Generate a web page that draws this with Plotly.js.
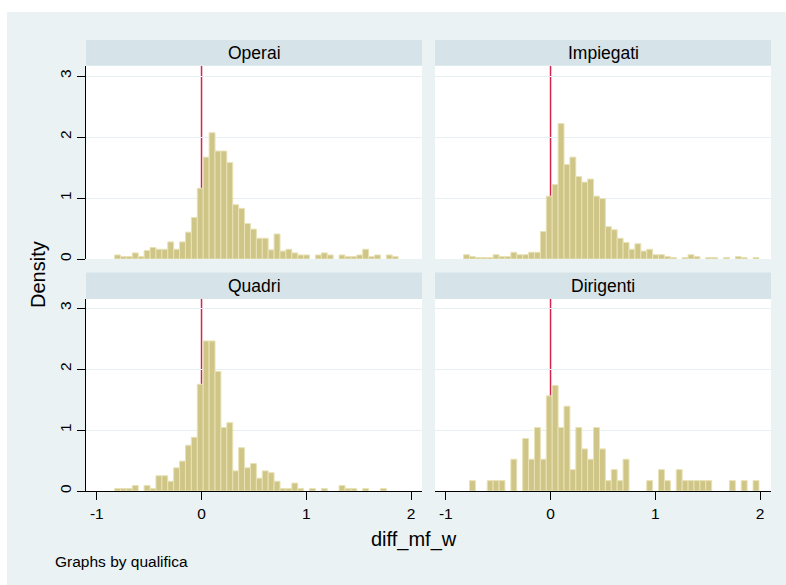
<!DOCTYPE html>
<html>
<head>
<meta charset="utf-8">
<script src="https://cdn.plot.ly/plotly-3.0.1.min.js"></script>
<style>html,body{margin:0;padding:0;background:#fff;}#chart{width:786px;height:585px;}</style>
</head>
<body>
<div id="chart"></div>
<script>
// Histogram bins (shared by all panels)
var binStart = -0.83;
var binWidth = 0.0564;
var nBins = 50;

var panelNames = ["Operai", "Impiegati", "Quadri", "Dirigenti"];

// Density per bin
var operai = [0.066,0.04,0.04,0.10,0.04,0.14,0.19,0.16,0.16,0.28,
              0.16,0.28,0.44,0.68,1.16,1.67,2.07,1.77,1.77,1.58,
              0.89,0.83,0.58,0.49,0.34,0.34,0.15,0.41,0.13,0.16,
              0.10,0.066,0.066,0,0.066,0.10,0.066,0,0.066,0.04,
              0.04,0.066,0.16,0.04,0.066,0,0.066,0.04,0,0];
var impiegati = [0.07,0.04,0.025,0.025,0.025,0.07,0.04,0.04,0.11,0.07,
                 0.07,0.11,0.11,0.45,1.03,1.22,2.22,1.55,1.67,1.35,
                 1.26,1.31,1.03,0.99,0.53,0.48,0.34,0.27,0.16,0.25,
                 0.13,0.16,0.07,0.07,0.04,0.025,0,0.025,0.07,0.04,
                 0,0.025,0.025,0,0.025,0,0.04,0.025,0,0.025];
var quadri = [0.04,0.04,0.04,0.09,0,0.09,0.04,0.25,0.25,0.16,
              0.38,0.49,0.75,0.88,1.75,2.46,2.46,1.96,1.04,1.12,
              0.33,0.71,0.38,0.45,0.21,0.33,0.30,0.16,0.04,0.04,
              0.13,0.04,0,0.04,0,0.04,0,0,0.09,0.04,
              0.04,0,0.04,0,0,0.04,0,0,0,0];
var dirigenti = [0,0.17,0,0,0.17,0.17,0.17,0,0.52,0,
                 0.86,0.52,1.04,0.52,1.56,1.73,1.04,1.39,0.35,1.04,
                 0.69,0.52,1.04,0.69,0.17,0.35,0.17,0.52,0,0,
                 0,0.17,0,0.35,0.17,0,0.35,0.17,0.17,0.17,
                 0.17,0.17,0,0,0,0.17,0,0.17,0,0.17];

var xTickVals = [-1, 0, 1, 2];
var xTickText = ["-1", "0", "1", "2"];
var yTickVals = [0, 1, 2, 3];
var yTickText = ["0", "1", "2", "3"];
var refLineX = 0;

var W = 786, H = 585;
var FONT = "Liberation Sans, Arial, sans-serif";
var BG = "#EAF2F3", STRIP = "#D6E3E8", GRID = "#E6EFF1";
var FILL = "#CEC587", EDGE = "#E8E2B6", RED = "#D6254D";

var centers = [];
for (var k = 0; k < nBins; k++) centers.push(binStart + binWidth * (k + 0.5));

function px(x) { return x / W; }
function py(y) { return 1 - y / H; }

// panel pixel boxes [left, right, top, bottom]
var boxes = [
  [86, 422, 66, 259],
  [435, 771, 66, 259],
  [86, 422, 299, 491],
  [435, 771, 299, 491]
];
var strips = [[40, 65.5], [40, 65.5], [272.5, 299], [272.5, 299]];
var series = [operai, impiegati, quadri, dirigenti];

var data = [], layout = {
  width: W, height: H,
  margin: {l: 0, r: 0, t: 0, b: 0},
  paper_bgcolor: BG,
  plot_bgcolor: "#FFFFFF",
  showlegend: false,
  bargap: 0,
  font: {family: FONT, color: "#000"},
  shapes: [
    {type: "rect", xref: "paper", yref: "paper", x0: 0, x1: 1, y0: py(12), y1: 1, fillcolor: "#FFFFFF", line: {width: 0}, layer: "below"},
    {type: "rect", xref: "paper", yref: "paper", x0: 0, x1: px(7), y0: 0, y1: 1, fillcolor: "#FFFFFF", line: {width: 0}, layer: "below"}
  ],
  annotations: []
};

for (var i = 0; i < 4; i++) {
  var b = boxes[i];
  var sfx = (i === 0 ? "" : String(i + 1));
  var xa = "xaxis" + sfx, ya = "yaxis" + sfx;
  var xr = "x" + sfx, yr = "y" + sfx;
  var left = (i % 2 === 0), bottom = (i >= 2);
  var yv = series[i].map(function (v) { return v > 0 ? v : null; });
  data.push({
    type: "bar", x: centers, y: yv, width: binWidth,
    xaxis: xr, yaxis: yr,
    marker: {color: FILL, line: {color: EDGE, width: 1}},
    hoverinfo: "x+y"
  });
  var topDens = (b[3] - b[2]) / 61;
  layout[xa] = {
    domain: [px(b[0]), px(b[1])], anchor: yr,
    range: [-1.103, 2.105], fixedrange: true,
    showgrid: false, zeroline: false,
    showline: bottom, linecolor: "#000", linewidth: 1,
    ticks: bottom ? "outside" : "", ticklen: 8, tickcolor: "#000", tickwidth: 1,
    showticklabels: bottom, tickvals: xTickVals, ticktext: xTickText,
    tickfont: {size: 15.5, family: FONT}
  };
  layout[ya] = {
    domain: [py(b[3]), py(b[2])], anchor: xr,
    range: [0, topDens], fixedrange: true,
    showgrid: true, gridcolor: GRID, gridwidth: 1, zeroline: false,
    showline: left, linecolor: "#000", linewidth: 1,
    ticks: left ? "outside" : "", ticklen: 8, tickcolor: "#000", tickwidth: 1,
    showticklabels: left, tickvals: yTickVals, ticktext: yTickText,
    tickangle: -90, tickfont: {size: 15.5, family: FONT}
  };
  // strip
  layout.shapes.push({type: "rect", xref: "paper", yref: "paper",
    x0: px(b[0]), x1: px(b[1]), y0: py(strips[i][1]), y1: py(strips[i][0]),
    fillcolor: STRIP, line: {width: 0}, layer: "below"});
  layout.annotations.push({xref: "paper", yref: "paper",
    x: px((b[0] + b[1]) / 2), y: py((strips[i][0] + strips[i][1]) / 2),
    text: panelNames[i], showarrow: false, xanchor: "center", yanchor: "middle",
    font: {size: 17.5, family: FONT, color: "#000"}});
  // reference line at 0
  layout.shapes.push({type: "line", xref: xr, yref: yr,
    x0: refLineX, x1: refLineX, y0: 0, y1: topDens,
    line: {color: RED, width: 1.5}, layer: "below"});
}

layout.annotations.push({xref: "paper", yref: "paper", x: px(38), y: py(275),
  text: "Density", textangle: -90, showarrow: false, xanchor: "center", yanchor: "middle",
  font: {size: 20, family: FONT}});
layout.annotations.push({xref: "paper", yref: "paper", x: px(413.5), y: py(539.5),
  text: "diff_mf_w", showarrow: false, xanchor: "center", yanchor: "middle",
  font: {size: 20, family: FONT}});
layout.annotations.push({xref: "paper", yref: "paper", x: px(52.5), y: py(561.5),
  text: "Graphs by qualifica", showarrow: false, xanchor: "left", yanchor: "middle",
  font: {size: 15.5, family: FONT}});

Plotly.newPlot("chart", data, layout, {displayModeBar: false, staticPlot: true});
</script>
</body>
</html>
